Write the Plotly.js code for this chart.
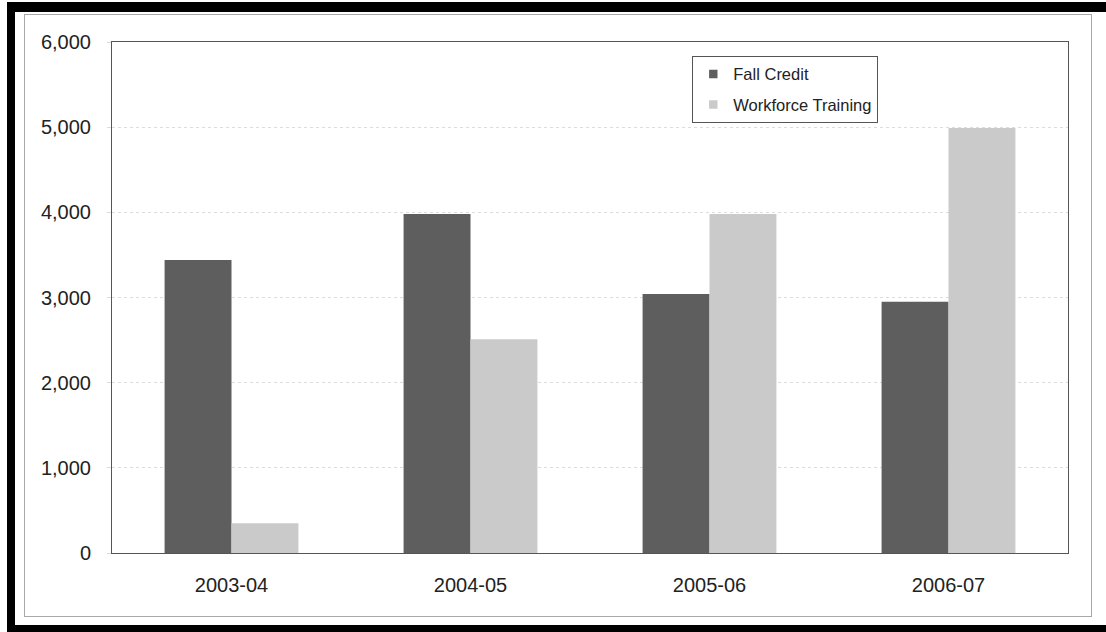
<!DOCTYPE html>
<html>
<head>
<meta charset="utf-8">
<script src="https://cdn.plot.ly/plotly-3.0.1.min.js"></script>
<style>
  html, body { margin: 0; padding: 0; background: #ffffff; }
  #wrap { position: relative; width: 1106px; height: 632px; overflow: hidden; background: #fff; }
  #chart { position: absolute; left: 0; top: 0; width: 1106px; height: 632px; }
  .deco { position: absolute; pointer-events: none; }
</style>
</head>
<body>
<div id="wrap">
  <div id="chart"></div>
  <div class="deco" style="left:7px; top:2px; width:1099px; height:10px; background:#000;"></div>
  <div class="deco" style="left:7px; top:2px; width:8px; height:630px; background:#000;"></div>
  <div class="deco" style="left:7px; top:625px; width:1099px; height:7px; background:#000;"></div>
  <div class="deco" style="left:24px; top:14px; width:1066px; height:601px; border:1px solid #a8a8a8;"></div>
</div>
<script>
const categories = ["2003-04", "2004-05", "2005-06", "2006-07"];
const fallCredit = [3440, 3980, 3040, 2950];
const workforceTraining = [350, 2510, 3980, 4990];
const seriesNames = ["Fall Credit", "Workforce Training"];
const yTickValues = [0, 1000, 2000, 3000, 4000, 5000, 6000];
const yTickLabels = ["0", "1,000", "2,000", "3,000", "4,000", "5,000", "6,000"];

const font = "Liberation Sans, Arial, sans-serif";

const traces = [
  {
    type: "bar", name: seriesNames[0], x: categories, y: fallCredit, legendgroup: "g1",
    marker: { color: "#5e5e5e", line: { width: 0 } }, hoverinfo: "x+y"
  },
  {
    type: "bar", name: seriesNames[1], x: categories, y: workforceTraining, legendgroup: "g2",
    marker: { color: "#cacaca", line: { width: 0 } }, hoverinfo: "x+y"
  }
];

const layout = {
  width: 1106, height: 632,
  margin: { l: 112, r: 38, t: 42, b: 79, pad: 0 },
  paper_bgcolor: "rgba(0,0,0,0)",
  plot_bgcolor: "#ffffff",
  barmode: "group",
  bargap: 0.44,
  bargroupgap: 0,
  showlegend: true,
  legend: {
    x: 0.607, y: 0.973, xanchor: "left", yanchor: "top",
    bgcolor: "#ffffff", bordercolor: "#555555", borderwidth: 1,
    font: { family: font, size: 16.5, color: "#222222" },
    traceorder: "grouped", tracegroupgap: 6, itemwidth: 30
  },
  xaxis: {
    type: "category",
    showline: true, linecolor: "#555555", linewidth: 1, mirror: true,
    ticks: "", showgrid: false, zeroline: false,
    tickfont: { family: font, size: 20, color: "#222222" },
    ticklabelstandoff: 14,
    fixedrange: true
  },
  yaxis: {
    range: [0, 6000],
    tickmode: "array", tickvals: yTickValues, ticktext: yTickLabels,
    showline: true, linecolor: "#555555", linewidth: 1, mirror: true,
    showgrid: true, gridcolor: "#dcdcdc", griddash: "dot", gridwidth: 1,
    zeroline: false,
    ticks: "outside", ticklen: 4, tickcolor: "#dcdcdc",
    tickfont: { family: font, size: 20, color: "#222222" },
    ticklabelstandoff: 12,
    fixedrange: true
  }
};

Plotly.newPlot("chart", traces, layout, { displayModeBar: false, staticPlot: true }).then(function (gd) {
  gd.querySelectorAll(".legend .legendpoints path").forEach(function (p) {
    const t = p.getAttribute("transform") || "";
    p.setAttribute("transform", t + " scale(0.7)");
  });
});
</script>
</body>
</html>
